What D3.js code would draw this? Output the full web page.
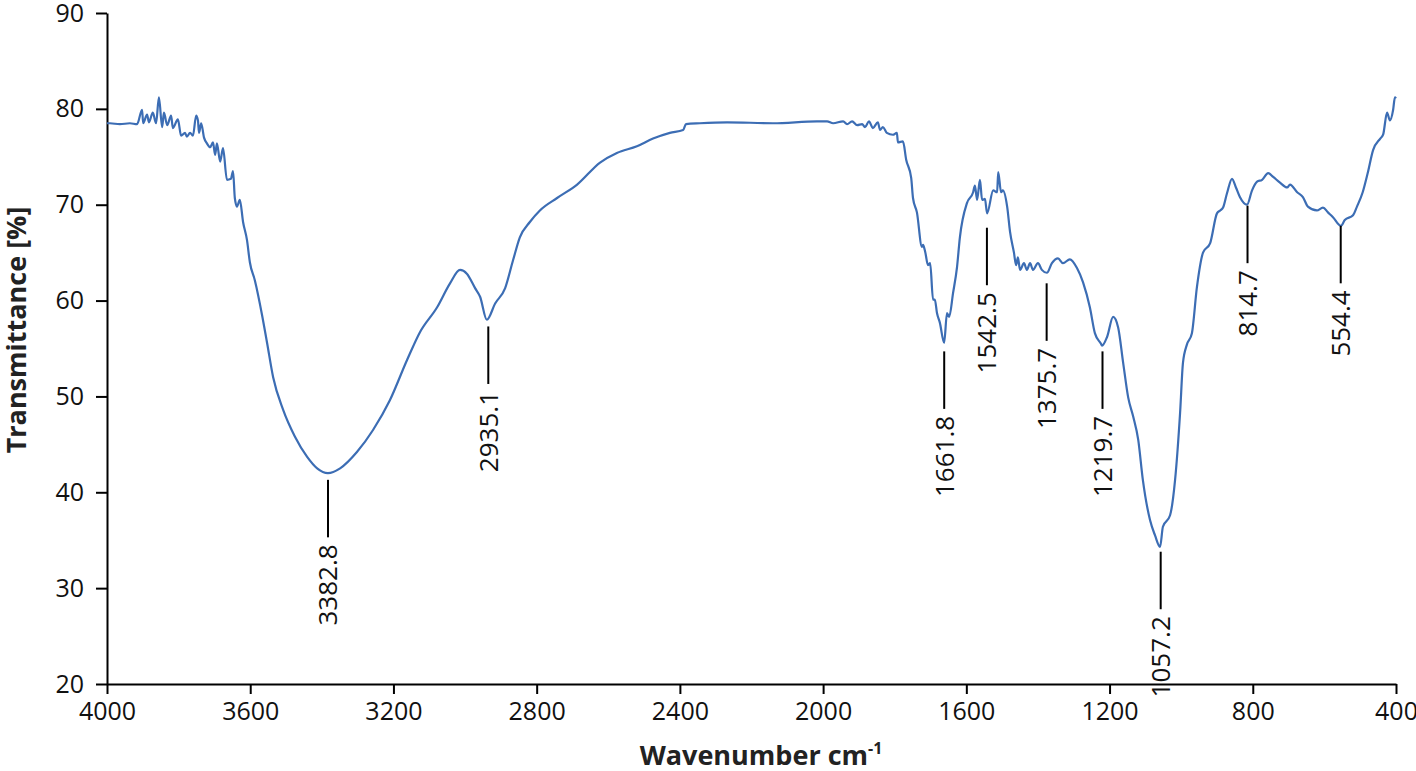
<!DOCTYPE html>
<html>
<head>
<meta charset="utf-8">
<script src="https://cdn.jsdelivr.net/npm/d3@7"></script>
<style>
  body { margin: 0; background: #fff; }
  text { font-family: "Open Sans", Lato, sans-serif; }
</style>
</head>
<body>
<div id="chart"></div>
<script>
// 1) Spectrum: wavenumber (cm-1) and transmittance (%)
var wavenumber = [4000, 3992, 3964, 3936, 3916, 3902, 3899, 3888, 3883, 3872, 3863, 3855, 3846, 3841, 3832,
    3821, 3816, 3802, 3793, 3782, 3777, 3768, 3760, 3751, 3746, 3743, 3737, 3729, 3721, 3712, 3704, 3698,
    3693, 3684, 3676, 3665, 3654, 3648, 3643, 3637, 3629, 3620, 3609, 3601, 3587, 3567, 3553, 3536, 3508,
    3475, 3441, 3413, 3383, 3349, 3302, 3257, 3210, 3162, 3126, 3078, 3042, 3014, 2995, 2972, 2958, 2939,
    2916, 2888, 2866, 2847, 2819, 2791, 2743, 2687, 2623, 2576, 2520, 2475, 2428, 2391, 2383, 2344, 2268,
    2140, 2017, 1989, 1972, 1944, 1933, 1919, 1905, 1891, 1883, 1872, 1861, 1847, 1841, 1833, 1822, 1805,
    1794, 1791, 1777, 1768, 1754, 1749, 1738, 1724, 1721, 1715, 1707, 1701, 1693, 1688, 1682, 1674, 1662,
    1654, 1648, 1637, 1626, 1618, 1598, 1581, 1576, 1570, 1562, 1556, 1548, 1542, 1525, 1514, 1511, 1503,
    1498, 1486, 1478, 1467, 1461, 1456, 1450, 1439, 1431, 1422, 1414, 1400, 1389, 1375, 1361, 1344, 1330,
    1311, 1291, 1274, 1255, 1241, 1224, 1221, 1207, 1190, 1176, 1162, 1148, 1134, 1120, 1107, 1087, 1073,
    1059, 1051, 1031, 1017, 1003, 995, 984, 970, 956, 939, 919, 900, 891, 883, 872, 858, 847, 836, 816,
    802, 788, 774, 757, 743, 724, 704, 696, 676, 660, 646, 621, 604, 590, 576, 554, 543, 520, 509, 493,
    479, 464, 444, 436, 425, 417, 408, 403, 400];
var transmittance = [78.5, 78.5, 78.4, 78.5, 78.4, 79.9, 78.5, 79.4, 78.6, 79.6, 78.5, 81.2, 78.1, 79.6, 78.3,
    79.3, 78.0, 78.9, 77.2, 77.5, 77.1, 77.5, 77.2, 79.3, 78.8, 77.5, 78.5, 77.0, 76.4, 76.0, 76.5, 75.2,
    76.4, 74.5, 75.9, 72.6, 72.7, 73.5, 70.7, 69.8, 70.5, 68.2, 66.3, 64.0, 62.1, 58.5, 55.6, 52.0, 48.6,
    45.8, 43.7, 42.5, 42.0, 42.5, 44.2, 46.5, 49.6, 53.8, 56.7, 59.3, 61.8, 63.2, 62.8, 61.3, 60.4, 58.0,
    59.7, 61.3, 64.2, 66.6, 68.2, 69.4, 70.7, 72.1, 74.4, 75.4, 76.1, 76.9, 77.5, 77.8, 78.4, 78.5, 78.6,
    78.5, 78.7, 78.7, 78.5, 78.7, 78.4, 78.7, 78.3, 78.4, 78.1, 78.7, 78.0, 78.6, 77.8, 78.1, 77.5, 77.3,
    77.5, 76.5, 76.6, 74.7, 72.8, 70.7, 69.2, 65.6, 65.8, 65.1, 63.7, 63.9, 60.1, 60.1, 58.7, 57.7, 55.6,
    58.7, 58.3, 60.8, 63.5, 66.6, 70.2, 71.3, 72.0, 70.5, 72.6, 70.5, 70.6, 69.1, 71.5, 71.3, 73.4, 71.3,
    71.5, 69.8, 67.2, 65.0, 63.7, 64.5, 63.2, 63.9, 63.2, 63.9, 63.2, 63.9, 63.2, 62.9, 63.9, 64.4, 63.9,
    64.3, 63.4, 61.9, 59.3, 56.6, 55.5, 55.3, 56.2, 58.3, 57.2, 53.5, 49.9, 47.9, 45.5, 41.3, 37.1, 35.5,
    34.3, 36.4, 37.6, 41.3, 48.3, 53.5, 55.4, 56.6, 61.4, 65.0, 66.0, 69.1, 69.4, 69.7, 71.2, 72.7, 71.8,
    70.8, 70.0, 71.5, 72.4, 72.6, 73.3, 72.9, 72.3, 71.8, 72.1, 71.3, 70.8, 69.8, 69.4, 69.7, 69.2, 68.7,
    67.8, 68.4, 68.9, 69.8, 71.3, 73.3, 75.7, 76.9, 77.3, 79.6, 78.8, 79.9, 81.2, 81.1];

// 2) Marked bands and where their marker line starts (in % transmittance)
var peakLabels = ["3382.8", "2935.1", "1661.8", "1542.5", "1375.7", "1219.7", "1057.2", "814.7", "554.4"];
var peakLineTop = [41.3, 57.3, 54.7, 67.6, 61.8, 54.7, 33.8, 69.9, 67.8];

// 3) Tick values
var xTicks = [4000, 3600, 3200, 2800, 2400, 2000, 1600, 1200, 800, 400];
var yTicks = [20, 30, 40, 50, 60, 70, 80, 90];

var svgWidth = 1416;
var svgHeight = 771;
var margin = {top: 13, right: 20, bottom: 87, left: 107};
var width = 1396 - margin.left;
var height = svgHeight - margin.top - margin.bottom;

var svg = d3.select("#chart")
    .append("svg")
    .attr("width", svgWidth)
    .attr("height", svgHeight);

var chart = svg.append("g")
    .attr("transform", `translate(${margin.left}, ${margin.top})`);

// 4) Scales - wavenumber runs high to low
var xScale = d3.scaleLinear()
    .domain([4000, 400])
    .range([0, width]);
var yScale = d3.scaleLinear()
    .domain([20, 90])
    .range([height, 0]);

// 5) Axes
var xAxis = chart.append("g")
    .attr("transform", `translate(0, ${height})`)
    .call(d3.axisBottom(xScale).tickValues(xTicks).tickSize(10).tickSizeOuter(0).tickPadding(8).tickFormat(d3.format("d")));
var yAxis = chart.append("g")
    .call(d3.axisLeft(yScale).tickValues(yTicks).tickSize(11).tickSizeOuter(0).tickPadding(12));

[xAxis, yAxis].forEach(function(ax) {
    ax.select(".domain").attr("stroke", "#000").attr("stroke-width", 2);
    ax.selectAll(".tick line").attr("stroke", "#000").attr("stroke-width", 2);
    ax.selectAll(".tick text")
        .style("font-family", "'Open Sans', sans-serif")
        .style("font-size", "25px")
        .attr("fill", "#111");
});

// 6) Spectrum line
var points = wavenumber.map(function(w, i) { return {w: w, t: transmittance[i]}; });
var line = d3.line()
    .x(d => xScale(d.w))
    .y(d => yScale(d.t))
    .curve(d3.curveMonotoneX);
chart.append("path")
    .datum(points)
    .attr("d", line)
    .attr("fill", "none")
    .attr("stroke", "#3c6db4")
    .attr("stroke-width", 2.2)
    .attr("stroke-linejoin", "round");

// 7) Band markers with rotated labels
var peaks = peakLabels.map(function(lbl, i) { return {label: lbl, w: +lbl, top: peakLineTop[i]}; });
var markLen = 6;
chart.selectAll(".peakline")
    .data(peaks)
    .enter()
    .append("line")
    .attr("class", "peakline")
    .attr("x1", d => xScale(d.w))
    .attr("x2", d => xScale(d.w))
    .attr("y1", d => yScale(d.top))
    .attr("y2", d => yScale(d.top - markLen))
    .attr("stroke", "#000")
    .attr("stroke-width", 2);
chart.selectAll(".peaklabel")
    .data(peaks)
    .enter()
    .append("text")
    .attr("class", "peaklabel")
    .attr("transform", d => `translate(${xScale(d.w)}, ${yScale(d.top - markLen) + 7}) rotate(-90)`)
    .attr("dy", "0.36em")
    .style("text-anchor", "end")
    .style("font-size", "26px")
    .attr("fill", "#111")
    .text(d => d.label);

// 8) Axis titles
svg.append("text")
    .attr("transform", "translate(26, 330) rotate(-90)")
    .style("text-anchor", "middle")
    .style("font-size", "27px")
    .style("font-weight", "bold")
    .attr("fill", "#222")
    .text("Transmittance [%]");
var xTitle = svg.append("text")
    .attr("x", 761)
    .attr("y", 765)
    .style("text-anchor", "middle")
    .style("font-size", "27px")
    .style("font-weight", "bold")
    .attr("fill", "#222");
xTitle.append("tspan").text("Wavenumber cm");
xTitle.append("tspan")
    .attr("dy", -11)
    .style("font-size", "16px")
    .text("-1");
</script>
</body>
</html>
